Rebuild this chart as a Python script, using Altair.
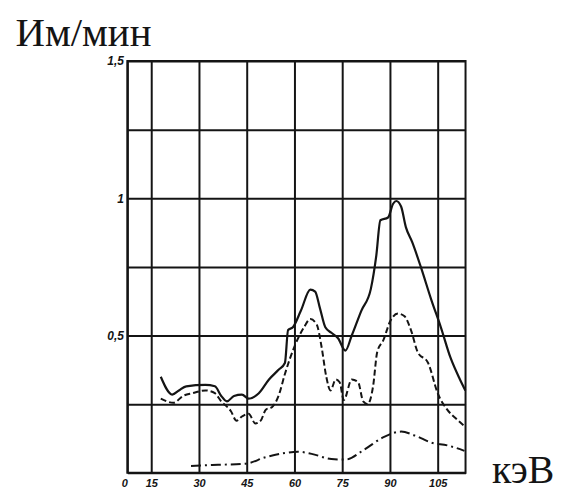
import altair as alt
import pandas as pd

# Solid curve
solid_kev = [18, 21.6, 23.7, 26, 32, 35, 37, 38.8, 41, 43.5, 45.6, 48.8, 52, 55, 57, 58, 59.5,
             62, 65, 66.5, 68, 69.7, 71.6, 73.7, 76, 78, 81, 84, 85.7, 87, 89.4, 91, 92, 93.5,
             95, 97, 99.7, 103, 106, 109, 112, 113.7]
solid_val = [0.35, 0.285, 0.30, 0.315, 0.32, 0.315, 0.28, 0.26, 0.28, 0.285, 0.27, 0.29, 0.34,
             0.375, 0.40, 0.52, 0.53, 0.59, 0.667, 0.66, 0.60, 0.53, 0.51, 0.49, 0.445, 0.50,
             0.59, 0.67, 0.79, 0.92, 0.93, 0.98, 0.99, 0.97, 0.895, 0.84, 0.75, 0.63, 0.53,
             0.42, 0.34, 0.30]

# Dashed curve
dash_kev = [18, 22, 25, 28, 32, 35, 37, 40, 41.8, 43.5, 45.6, 47.7, 49.4, 51, 53, 55, 57, 60,
            63, 65, 67, 68.5, 70, 71.3, 73, 74.2, 75.5, 78, 80, 81.6, 83, 84.7, 86, 88, 90,
            92.5, 94.6, 96.6, 98.7, 102, 105, 108, 111, 113.4]
dash_val = [0.27, 0.255, 0.28, 0.29, 0.30, 0.29, 0.26, 0.225, 0.19, 0.205, 0.215, 0.18, 0.19,
            0.23, 0.24, 0.28, 0.36, 0.46, 0.53, 0.56, 0.54, 0.46, 0.35, 0.30, 0.34, 0.33,
            0.265, 0.34, 0.33, 0.26, 0.25, 0.315, 0.44, 0.485, 0.55, 0.58, 0.57, 0.52, 0.44,
            0.40, 0.29, 0.23, 0.195, 0.17]

# Dash-dot curve
dd_kev = [27.5, 31.5, 36, 44.6, 51, 57, 61, 65.4, 71.6, 76, 82, 88, 93.5, 98, 103, 108, 113.4]
dd_val = [0.025, 0.027, 0.029, 0.033, 0.057, 0.072, 0.077, 0.069, 0.05, 0.048, 0.085, 0.13,
          0.15, 0.135, 0.11, 0.10, 0.08]

x_ticks = [7.5, 15, 30, 45, 60, 75, 90, 105]
y_ticks = [0, 0.25, 0.5, 0.75, 1.0, 1.25, 1.5]

INK = "#141414"

solid = pd.DataFrame({"kev": solid_kev, "val": solid_val})
dashed = pd.DataFrame({"kev": dash_kev, "val": dash_val})
dashdot = pd.DataFrame({"kev": dd_kev, "val": dd_val})

x_enc = alt.X(
    "kev:Q",
    scale=alt.Scale(domain=[7.5, 113.75], nice=False, zero=False),
    axis=alt.Axis(
        values=x_ticks,
        labelExpr="datum.value < 10 ? '0' : datum.label",
        grid=True, gridColor=INK, gridWidth=2,
        domain=False, ticks=False,
        labelFont="Liberation Sans", labelFontStyle="italic", labelFontWeight="bold",
        labelFontSize=11, labelColor=INK, labelPadding=5,
        labelAlign=alt.condition("datum.value < 10", alt.value("right"), alt.value("center")),
        title="кэВ", titleFont="Liberation Serif", titleFontSize=40,
        titleFontWeight="normal", titleColor=INK,
        titleX=366, titleY=10, titleAlign="left", titleBaseline="alphabetic",
    ),
)
y_enc = alt.Y(
    "val:Q",
    scale=alt.Scale(domain=[0, 1.5], nice=False),
    axis=alt.Axis(
        values=y_ticks,
        labelExpr="datum.value == 0.5 ? '0,5' : datum.value == 1 ? '1' : datum.value == 1.5 ? '1,5' : ''",
        grid=True, gridColor=INK, gridWidth=2,
        domain=False, ticks=False,
        labelFont="Liberation Sans", labelFontStyle="italic", labelFontWeight="bold",
        labelFontSize=12, labelColor=INK, labelPadding=4,
        title="Им/мин", titleFont="Liberation Serif", titleFontSize=41,
        titleFontWeight="normal", titleColor=INK, titleAngle=0,
        titleX=-113, titleY=-16, titleAlign="left", titleBaseline="alphabetic",
    ),
)

l1 = alt.Chart(solid).mark_line(color=INK, strokeWidth=2.2, interpolate="monotone").encode(x=x_enc, y=y_enc)
l2 = alt.Chart(dashed).mark_line(color=INK, strokeWidth=2, strokeDash=[6, 3], interpolate="monotone").encode(x="kev:Q", y="val:Q")
l3 = alt.Chart(dashdot).mark_line(color=INK, strokeWidth=2, strokeDash=[10, 4, 2, 4], interpolate="monotone").encode(x="kev:Q", y="val:Q")

chart = alt.layer(l1, l2, l3).properties(
    width=340, height=414,
    autosize=alt.AutoSizeParams(type="none"),
    padding={"left": 120, "top": 52, "right": 100, "bottom": 17},
    background="white",
).configure_view(stroke=INK, strokeWidth=2)

chart.save("out.html", embed_options={"renderer": "svg", "actions": False})
